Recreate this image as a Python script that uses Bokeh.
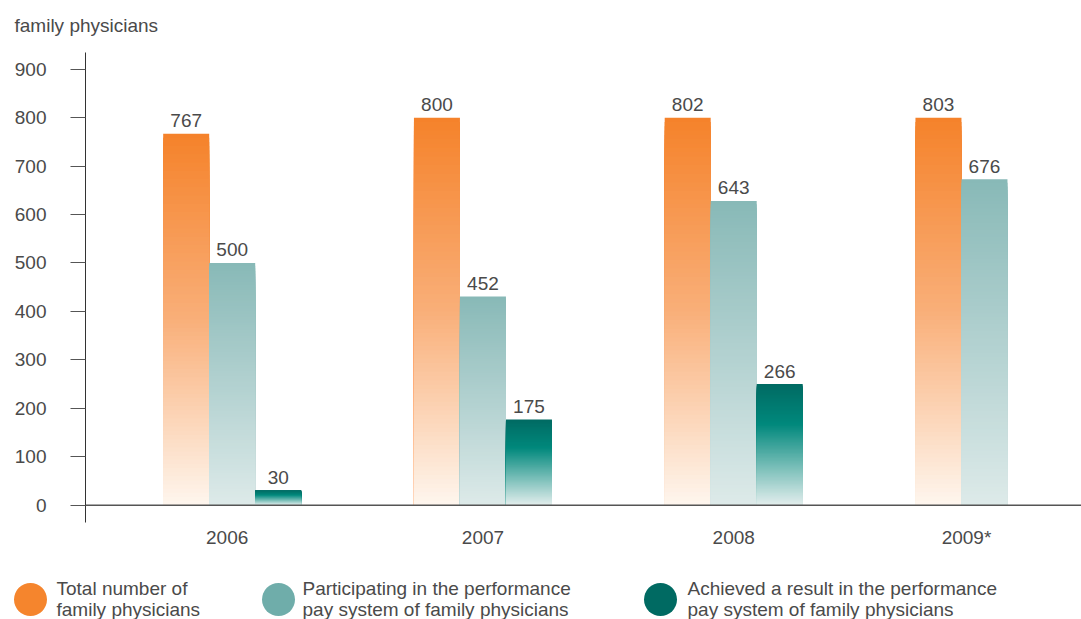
from bokeh.plotting import figure
from bokeh.models import Range1d, FixedTicker, Span, ColumnDataSource
from bokeh.layouts import column
from bokeh.embed import file_html
from bokeh.resources import INLINE
from bokeh.core.properties import value

# ---------------- data ----------------
years = ["2006", "2007", "2008", "2009*"]
series_names = [
    "Total number of\nfamily physicians",
    "Participating in the performance\npay system of family physicians",
    "Achieved a result in the performance\npay system of family physicians",
]
# bar heights as drawn in the picture
total_bars = [767, 800, 800, 800]
participating_bars = [500, 431, 628, 673]
achieved_bars = [31, 177, 250]
# value labels printed on the bars
total_labels = ["767", "800", "802", "803"]
participating_labels = ["500", "452", "643", "676"]
achieved_labels = ["30", "175", "266"]
y_ticks = [0, 100, 200, 300, 400, 500, 600, 700, 800, 900]
y_title = "family physicians"

# ---------------- style ----------------
FONT = "Liberation Sans"
TXT = "#4a4a4a"
W = 1081
legend_colors = ["#F5852D", "#6FADAA", "#006A62"]
gradients = [
    [(0.0, "#F5822A"), (0.5, "#F9AF79"), (1.0, "#FEF6EE")],
    [(0.0, "#88B9B7"), (0.5, "#B2D1D0"), (1.0, "#DDEAE9")],
    [(0.0, "#006B63"), (0.33, "#00887C"), (1.0, "#E3EEED")],
]
BW = 46 / 250.75  # bar width in group units
N = 90            # gradient slices per bar


def hex2rgb(h):
    h = h.lstrip("#")
    return tuple(int(h[i:i + 2], 16) for i in (0, 2, 4))


def grad_color(stops, t):
    for (t0, c0), (t1, c1) in zip(stops[:-1], stops[1:]):
        if t <= t1:
            f = (t - t0) / (t1 - t0) if t1 > t0 else 0
            a, b = hex2rgb(c0), hex2rgb(c1)
            return "#%02x%02x%02x" % tuple(round(a[i] + (b[i] - a[i]) * f) for i in range(3))
    return stops[-1][1]


def blank(fig):
    fig.outline_line_color = None
    fig.grid.grid_line_color = None
    fig.background_fill_color = None
    fig.border_fill_color = None


# ---------------- title strip ----------------
tf = figure(width=W, height=44, output_backend="svg", toolbar_location=None,
            x_range=Range1d(0, W), y_range=Range1d(44, 0),
            min_border=0, x_axis_location=None, y_axis_location=None)
blank(tf)
tf.text(x=[14], y=[24.5], text=[y_title], text_baseline="middle",
        text_font=value(FONT), text_font_size="19px", text_color=TXT)

# ---------------- main chart ----------------
p = figure(width=W, height=512, output_backend="svg", toolbar_location=None,
           x_range=Range1d(-0.585, 3.387), y_range=Range1d(-35.7, 934.5),
           min_border_left=85, min_border_top=8, min_border_right=0, min_border_bottom=34)
blank(p)

series = [(total_bars, total_labels), (participating_bars, participating_labels),
          (achieved_bars, achieved_labels)]

sl = dict(left=[], right=[], top=[], bottom=[], color=[])
lab = dict(x=[], y=[], text=[])
for s, (bars, labels) in enumerate(series):
    for i, h in enumerate(bars):
        xc = i + (s - 1) * BW
        for k in range(N):
            t = (k + 0.5) / N
            sl["left"].append(xc - BW / 2)
            sl["right"].append(xc + BW / 2)
            sl["bottom"].append(0)
            sl["top"].append(h * (1 - k / N))
            sl["color"].append(grad_color(gradients[s], t))
        lab["x"].append(xc)
        lab["y"].append(h)
        lab["text"].append(labels[i])

p.quad(left="left", right="right", top="top", bottom="bottom", fill_color="color",
       line_color=None, source=ColumnDataSource(sl))
p.text(x="x", y="y", text="text", source=ColumnDataSource(lab), text_align="center",
       text_baseline="middle", y_offset=-13, text_font=value(FONT),
       text_font_size="19px", text_color=TXT)

p.add_layout(Span(location=0, dimension="width", line_color="#555555", line_width=1.5))

# y axis
ya = p.yaxis[0]
ya.ticker = FixedTicker(ticks=y_ticks)
ya.axis_line_color = "#333333"
ya.major_tick_line_color = "#555555"
ya.major_tick_out = 15
ya.major_tick_in = 0
ya.minor_tick_line_color = None
ya.major_label_standoff = 24
ya.major_label_text_font = FONT
ya.major_label_text_font_size = "19px"
ya.major_label_text_color = TXT

# x axis (labels roughly centred under each year's bars)
tick_pos = []
for i in range(len(years)):
    n = sum(1 for bars, _ in series if i < len(bars))
    tick_pos.append(i + (n - 3) * BW / 2)
tick_pos[0] -= 0.02
tick_pos[-1] += 0.02
xa = p.xaxis[0]
xa.ticker = FixedTicker(ticks=tick_pos)
xa.major_label_overrides = {tp: y for tp, y in zip(tick_pos, years)}
xa.axis_line_color = None
xa.major_tick_line_color = None
xa.minor_tick_line_color = None
xa.major_tick_out = 0
xa.major_tick_in = 0
xa.major_label_standoff = 4
xa.major_label_text_font = FONT
xa.major_label_text_font_size = "19px"
xa.major_label_text_color = TXT

# ---------------- legend strip ----------------
lg = figure(width=W, height=63, output_backend="svg", toolbar_location=None,
            x_range=Range1d(0, W), y_range=Range1d(619, 556),
            min_border=0, x_axis_location=None, y_axis_location=None)
blank(lg)

lx = [30, 278, 660]
tx = [56, 302, 687]
lg.scatter(x=lx, y=[599] * 3, size=33, marker="circle", fill_color=legend_colors, line_color=None)
lt = dict(x=[], y=[], text=[])
for j, name in enumerate(series_names):
    for r, line in enumerate(name.split("\n")):
        lt["x"].append(tx[j])
        lt["y"].append(588 + 20.5 * r)
        lt["text"].append(line)
lg.text(x="x", y="y", text="text", source=ColumnDataSource(lt), text_baseline="middle",
        text_font=value(FONT), text_font_size="19px", text_color=TXT)

layout = column(column(tf), p, column(lg), spacing=0)
open("out.html", "w").write(file_html(layout, INLINE))
